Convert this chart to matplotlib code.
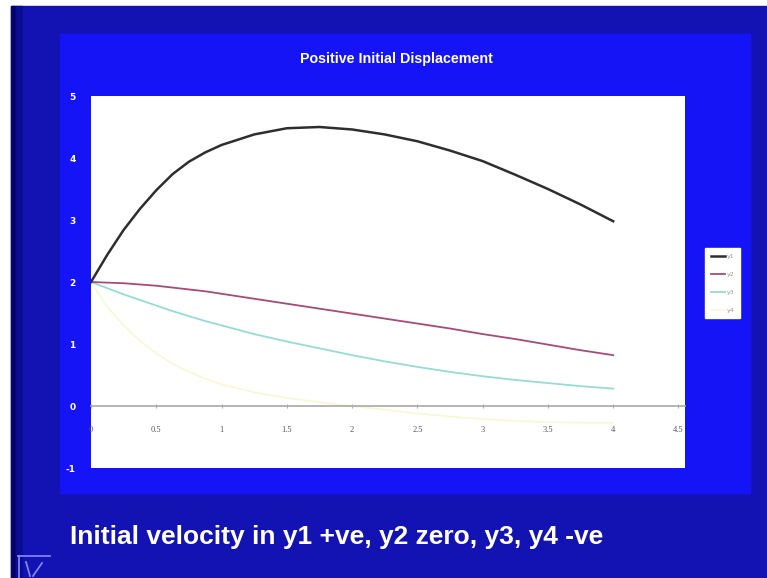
import matplotlib
matplotlib.use("Agg")
import matplotlib.pyplot as plt
from matplotlib.patches import Rectangle
from matplotlib.lines import Line2D

# data
t = [0, 0.125, 0.25, 0.375, 0.5, 0.625, 0.75, 0.875, 1.0, 1.25, 1.5, 1.75, 2.0, 2.25, 2.5, 2.75, 3.0, 3.25, 3.5, 3.75, 4.0]
y1 = [2.0, 2.44, 2.84, 3.18, 3.48, 3.74, 3.94, 4.09, 4.21, 4.38, 4.48, 4.5, 4.46, 4.38, 4.27, 4.12, 3.95, 3.73, 3.5, 3.25, 2.98]
y2 = [2.0, 1.99, 1.98, 1.96, 1.94, 1.91, 1.88, 1.85, 1.81, 1.73, 1.65, 1.57, 1.49, 1.41, 1.33, 1.25, 1.16, 1.08, 0.99, 0.9, 0.82]
y3 = [2.0, 1.9, 1.8, 1.71, 1.62, 1.53, 1.45, 1.37, 1.3, 1.16, 1.04, 0.93, 0.82, 0.72, 0.63, 0.55, 0.48, 0.42, 0.37, 0.32, 0.28]
y4 = [2.0, 1.6, 1.3, 1.05, 0.85, 0.68, 0.55, 0.44, 0.35, 0.22, 0.13, 0.06, 0.0, -0.06, -0.12, -0.17, -0.21, -0.24, -0.26, -0.27, -0.27]
series_names = ["y1", "y2", "y3", "y4"]
xticks = [0, 0.5, 1, 1.5, 2, 2.5, 3, 3.5, 4, 4.5]
xtick_labels = ["0", "0.5", "1", "1.5", "2", "2.5", "3", "3.5", "4", "4.5"]
yticks = [-1, 0, 1, 2, 3, 4, 5]

title = "Positive Initial Displacement"
caption = "Initial velocity in y1 +ve, y2 zero, y3, y4 -ve"

W, H = 767, 578
fig = plt.figure(figsize=(W / 100, H / 100), dpi=100, facecolor="white")


def box(x0, y0, x1, y1_, color):
    # pixel coords, origin top-left
    fig.patches.append(Rectangle((x0 / W, 1 - y1_ / H), (x1 - x0) / W, (y1_ - y0) / H,
                                 transform=fig.transFigure, color=color, zorder=-10))


# slide background
box(11, 6, 767, 578, "#1313b4")
box(11, 6, 16, 578, "#06066a")
box(16, 6, 22, 578, "#0c0c92")
box(60, 34, 750, 493, "#1414f6")

# small icon bottom-left
for xs, ys in [([18, 50], [556, 556]), ([19, 19], [556, 578]), ([26, 30], [562, 576]), ([33, 42], [576, 563])]:
    fig.lines.append(Line2D([x / W for x in xs], [1 - y / H for y in ys],
                            transform=fig.transFigure, color="#8a8aff", lw=1.2, zorder=-5))

ax = fig.add_axes([91 / W, 1 - 468 / H, (685 - 91) / W, (468 - 96) / H])
ax.set_zorder(2)
ax.set_facecolor("white")

ax.plot(t, y4, color="#f8f8d4", lw=1.2, label=series_names[3], zorder=2)
ax.plot(t, y3, color="#96dcd6", lw=1.3, label=series_names[2], zorder=3)
ax.plot(t, y2, color="#a84a78", lw=1.3, label=series_names[1], zorder=4)
ax.plot(t, y1, color="#2e2e2e", lw=1.8, label=series_names[0], zorder=5)

ax.set_xlim(0, 4.55)
ax.set_ylim(-1, 5)

for s in ["top", "right", "left"]:
    ax.spines[s].set_visible(False)
ax.spines["bottom"].set_position(("data", 0))
ax.spines["bottom"].set_color("#a8a8a8")
ax.spines["bottom"].set_linewidth(1.2)

ax.set_xticks(xticks)
ax.set_xticklabels(xtick_labels, fontsize=6, color="#555555", family="Liberation Serif")
ax.tick_params(axis="x", direction="inout", length=3, color="#b0b0b0", pad=13)
ax.set_yticks(yticks)
ax.set_yticklabels([str(v) for v in yticks], fontsize=6.5, color="white", fontweight="bold")
ax.tick_params(axis="y", length=0, pad=11)

handles, labels = ax.get_legend_handles_labels()
order = [3, 2, 1, 0]
leg = ax.legend([handles[i] for i in order], [labels[i] for i in order],
                loc="upper left", bbox_to_anchor=(702 / W, 1 - 245 / H),
                bbox_transform=fig.transFigure, fontsize=4.5, frameon=True,
                fancybox=False, framealpha=1, handlelength=2.2, labelspacing=2.0,
                borderpad=0.9, handletextpad=0.4)
leg.get_frame().set_facecolor("white")
leg.get_frame().set_edgecolor("white")
for txt in leg.get_texts():
    txt.set_color("#999999")

fig.text(396 / W, 1 - 59 / H, title, ha="center", va="center", color="white",
         fontsize=10.3, fontweight="bold", family="Liberation Sans")
fig.text(70 / W, 1 - 537 / H, caption, ha="left", va="center", color="white",
         fontsize=19, fontweight="bold", family="Liberation Sans")

fig.savefig("out.png", dpi=100, facecolor=fig.get_facecolor())
